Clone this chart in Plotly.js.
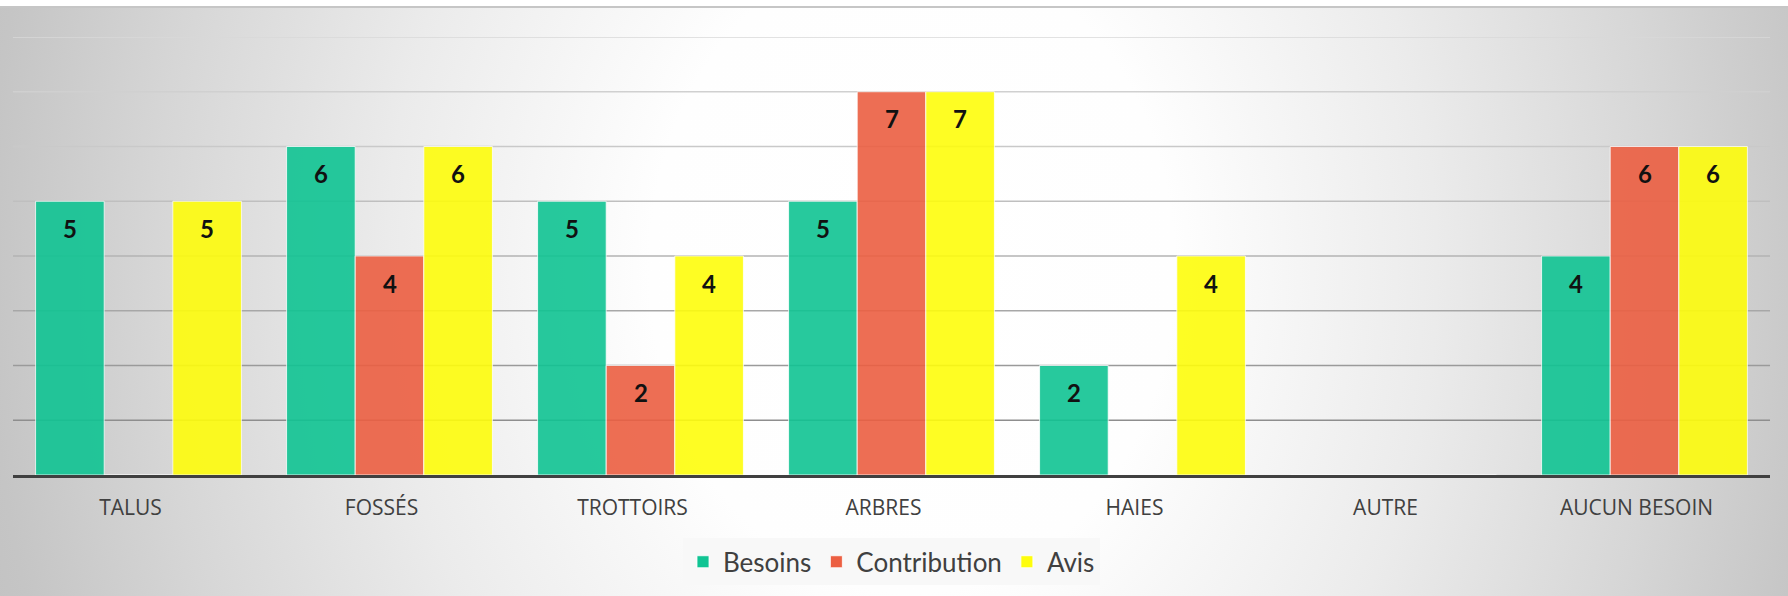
<!DOCTYPE html>
<html>
<head>
<meta charset="utf-8">
<script src="https://cdn.plot.ly/plotly-3.0.1.min.js"></script>
<style>
  html, body { margin: 0; padding: 0; background: #ffffff; }
  #chart {
    width: 1788px; height: 596px;
    background:
      linear-gradient(#ffffff, #ffffff) 0 0 / 100% 6px no-repeat,
      linear-gradient(#c6c6c6, #c6c6c6) 0 6px / 100% 2px no-repeat,
      radial-gradient(ellipse 1050px 1300px at 51% 45%, #ffffff 0%, #fefefe 25%, #ebebeb 50%, #d6d6d6 72%, #c5c5c5 88%, #bdbdbd 100%);
  }
</style>
</head>
<body>
<div id="chart"></div>
<script>
const categories = ["TALUS", "FOSSÉS", "TROTTOIRS", "ARBRES", "HAIES", "AUTRE", "AUCUN BESOIN"];
const besoins      = [5, 6, 5, 5, 2, 0, 4];
const contribution = [0, 4, 2, 7, 0, 0, 6];
const avis         = [5, 6, 4, 7, 4, 0, 6];
const seriesNames  = ["Besoins", "Contribution", "Avis"];
const gridLevels   = [1, 2, 3, 4, 5, 6, 7, 8];

const seriesValues = [besoins, contribution, avis];
const seriesColors = ["#10c493", "#ec5f42", "#fefd0c"];
const gridColors = ["#8e8e8e", "#9a9a9a", "#a7a7a7", "#b3b3b3", "#bfbfbf", "#c9c9c9", "#d0d0d0", "#d8d8d8"];
const bargap = 0.18;

const traces = seriesValues.map((vals, i) => ({
  type: "bar",
  name: seriesNames[i],
  x: categories,
  y: vals,
  marker: { color: seriesColors[i], opacity: 0.9, line: { color: "rgba(255,255,255,0.8)", width: 1 } },
  hoverinfo: "x+y+name"
}));

const annotations = [];
seriesValues.forEach((vals, si) => {
  vals.forEach((v, ci) => {
    if (v > 0) {
      annotations.push({
        x: ci + (si - 1) * (1 - bargap) / 3,
        y: v,
        xref: "x", yref: "y",
        text: String(v),
        showarrow: false,
        yanchor: "middle",
        yshift: -27,
        font: { family: "Lato, 'DejaVu Sans', sans-serif", size: 24, color: "#111111", weight: 700 }
      });
    }
  });
});

const shapes = gridLevels.map((g, i) => ({
  type: "line", xref: "paper", yref: "y",
  x0: 0, x1: 1, y0: g, y1: g,
  line: { color: gridColors[i], width: 1.5 },
  layer: "below"
}));

const layout = {
  width: 1788, height: 596,
  margin: { l: 13, r: 18, t: 37, b: 120 },
  paper_bgcolor: "rgba(0,0,0,0)",
  plot_bgcolor: "rgba(0,0,0,0)",
  barmode: "group",
  bargap: bargap,
  bargroupgap: 0,
  showlegend: true,
  legend: {
    orientation: "h",
    x: 0.5, xanchor: "center",
    y: -0.142, yanchor: "top",
    bgcolor: "#f8f8f8",
    font: { family: "Lato, 'Noto Sans', sans-serif", size: 26, color: "#404040" },
    itemwidth: 30,
    traceorder: "normal"
  },
  xaxis: {
    type: "category",
    showgrid: false,
    showline: true, linecolor: "#404040", linewidth: 3,
    ticks: "",
    tickfont: { family: "'Open Sans', sans-serif", size: 21, color: "#404040" },
    ticklabelstandoff: 12,
    ticklabelshift: -8,
    fixedrange: true
  },
  yaxis: {
    range: [0, 8],
    showgrid: false,
    showticklabels: false,
    zeroline: false,
    ticks: "",
    fixedrange: true
  },
  shapes: shapes,
  annotations: annotations
};

Plotly.newPlot("chart", traces, layout, { displayModeBar: false, staticPlot: true });
</script>
</body>
</html>
